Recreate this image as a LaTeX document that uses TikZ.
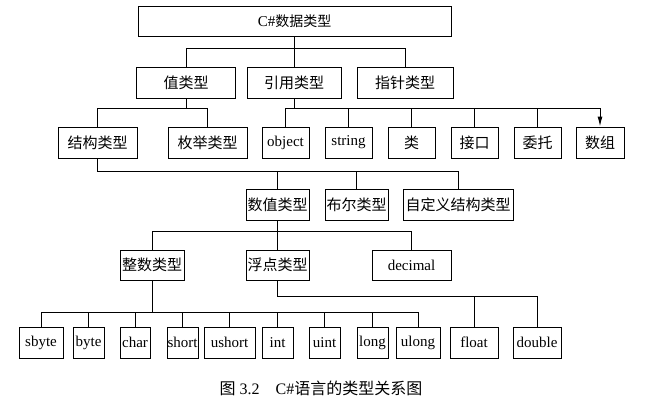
\documentclass[tikz,border=0pt]{standalone}
\usepackage{fontspec}
\setmainfont{Liberation Serif}
\newfontfamily\cjk{Noto Sans CJK SC}
\usepackage{tikz}
\usetikzlibrary{arrows.meta}
\tikzset{box/.style={draw, line width=1pt, inner sep=0pt, minimum height=31pt, font=\fontsize{15}{17}\selectfont}}
\tikzset{link/.style={line width=1pt}}

\begin{document}
\begin{tikzpicture}[x=1pt,y=-1pt]
\useasboundingbox (0,0) rectangle (650,405);
\node[box, minimum width=313pt, minimum height=30pt] (root) at (294.5,21) {C\#{\cjk\fontsize{14}{16}\selectfont 数据类型}};
\node[box, minimum width=99pt] (value) at (186,82.5) {\cjk 值类型};
\node[box, minimum width=94pt] (ref) at (294,82.5) {\cjk 引用类型};
\node[box, minimum width=96pt] (ptr) at (405,82.5) {\cjk 指针类型};
\node[box, minimum width=79pt] (struct) at (97.5,142.5) {\cjk 结构类型};
\node[box, minimum width=79pt] (enum) at (207.5,142.5) {\cjk 枚举类型};
\node[box, minimum width=47pt] (object) at (285.5,142.5) {object};
\node[box, minimum width=47pt] (string) at (348.5,142.5) {string};
\node[box, minimum width=47pt] (class) at (411.5,142.5) {\cjk 类};
\node[box, minimum width=47pt] (iface) at (474.5,142.5) {\cjk 接口};
\node[box, minimum width=47pt] (deleg) at (537.5,142.5) {\cjk 委托};
\node[box, minimum width=48pt] (array) at (600,142.5) {\cjk 数组};
\node[box, minimum width=63pt] (num) at (277.5,204.5) {\cjk 数值类型};
\node[box, minimum width=63pt] (bool) at (356.5,204.5) {\cjk 布尔类型};
\node[box, minimum width=110pt] (custom) at (458,204.5) {\cjk 自定义结构类型};
\node[box, minimum width=64pt, minimum height=30pt] (integer) at (152,265) {\cjk 整数类型};
\node[box, minimum width=63pt, minimum height=30pt] (floating) at (277.5,265) {\cjk 浮点类型};
\node[box, minimum width=79pt, minimum height=30pt] (decimal) at (411.5,265) {decimal};
\node[box, minimum width=44pt] (sbyte) at (41,342.5) {sbyte};
\node[box, minimum width=31pt] (byte) at (88.5,342.5) {byte};
\node[box, minimum width=30pt] (char) at (135,342.5) {char};
\node[box, minimum width=31pt] (short) at (182.5,342.5) {short};
\node[box, minimum width=51pt] (ushort) at (229.5,342.5) {ushort};
\node[box, minimum width=31pt] (int) at (277.5,342.5) {int};
\node[box, minimum width=31pt] (uint) at (324.5,342.5) {uint};
\node[box, minimum width=31pt] (long) at (372.5,342.5) {long};
\node[box, minimum width=44pt] (ulong) at (418,342.5) {ulong};
\node[box, minimum width=48pt] (float) at (474,342.5) {float};
\node[box, minimum width=48pt] (double) at (537,342.5) {double};
\node[font=\fontsize{16}{18}\selectfont] (caption) at (321,388) {{\cjk 图}\ 3.2\quad C\#{\cjk 语言的类型关系图}};

\foreach \n in {value,ref,ptr} \draw[link] (root.south) -- ++(0,12) -| (\n.north);
\foreach \n in {struct,enum} \draw[link] (value.south) -- ++(0,10) -| (\n.north);
\foreach \n in {object,string,class,iface,deleg} \draw[link] (ref.south) -- ++(0,10) -| (\n.north);
\draw[link,-{Latex[length=10pt,width=5pt]}] (ref.south) -- ++(0,10) -| (array.north);
\foreach \n in {num,bool,custom} \draw[link] (struct.south) -- ++(0,13) -| (\n.north);
\foreach \n in {integer,floating,decimal} \draw[link] (num.south) -- ++(0,11) -| (\n.north);
\foreach \n in {sbyte,byte,char,short,ushort,int,uint,long,ulong} \draw[link] (integer.south) -- ++(0,32) -| (\n.north);
\foreach \n in {float,double} \draw[link] (floating.south) -- ++(0,16) -| (\n.north);
\end{tikzpicture}
\end{document}
